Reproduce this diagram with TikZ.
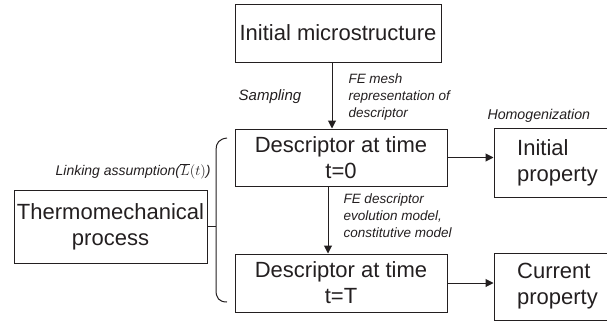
\documentclass[tikz,border=0pt]{standalone}
\usepackage{fontspec}
\setmainfont{Liberation Sans}
\usetikzlibrary{arrows.meta}
\definecolor{ink}{HTML}{231F20}
\begin{document}
\begin{tikzpicture}[x=1pt,y=-1pt,
  line width=1pt, draw=ink, text=ink,
  box/.style={draw=ink, line width=1pt, inner sep=0pt, align=center,
    font=\fontsize{22}{26}\selectfont},
  lbl/.style={inner sep=0pt, align=left, font=\fontsize{13.5}{17}\selectfont\itshape},
  arr/.style={draw=ink, line width=1pt, -{Triangle[length=8pt,width=8pt]}}]
\useasboundingbox (0,0) rectangle (607,324);
\clip (0,0) rectangle (607,324);

% boxes
\node[box, minimum width=206pt, minimum height=58pt] (micro) at (338,33) {Initial microstructure};
\node[box, minimum width=212pt, minimum height=57pt] (desc0) at (341,157.5) {Descriptor at time\\t=0};
\node[box, minimum width=212pt, minimum height=58pt] (descT) at (341,283) {Descriptor at time\\t=T};
\node[box, minimum width=193pt, minimum height=73pt] (thermo) at (110.5,226.5) {Thermomechanical\\process};
\node[box, align=left, minimum width=127pt, minimum height=69pt] (initprop) at (557.5,162.5) {Initial\\property};
\node[box, align=left, minimum width=127pt, minimum height=67pt] (curprop) at (557.5,286.5) {Current\\property};

% arrows
\draw[arr] ([xshift=-6pt]micro.south) -- ([xshift=-9pt]desc0.north);
\draw[arr] ([xshift=-13pt]desc0.south) -- ([xshift=-13pt]descT.north);
\draw[arr] (desc0.east) -- (desc0.east -| initprop.west);
\draw[arr] (descT.east) -- (descT.east -| curprop.west);

% bracket joining the process to both descriptors
\coordinate (bt) at (227,138);
\coordinate (bb) at (227,302);
\coordinate (bx) at (216,226);
\draw (bt) .. controls (219,139) and (216,143) .. (216,150) -- (216,290)
      .. controls (216,298) and (219,302) .. (bb);
\draw (thermo.east) -- (thermo.east -| bx);

% labels
\node[lbl, anchor=center, font=\fontsize{15}{17}\selectfont\itshape] (samp) at (270,97) {Sampling};
\node[lbl, anchor=north west] (mesh) at (348,73) {FE mesh\\representation of\\descriptor};
\node[lbl, anchor=west, font=\fontsize{14.2}{17}\selectfont\itshape] (homog) at (487,116) {Homogenization};
\node[lbl, anchor=east, font=\fontsize{14}{17}\selectfont\itshape] (link) at (211,171) {Linking assumption($\overline{L}(t)$)};
\node[lbl, anchor=north west] (evol) at (343,193) {FE descriptor\\evolution model,\\constitutive model};
\end{tikzpicture}
\end{document}
